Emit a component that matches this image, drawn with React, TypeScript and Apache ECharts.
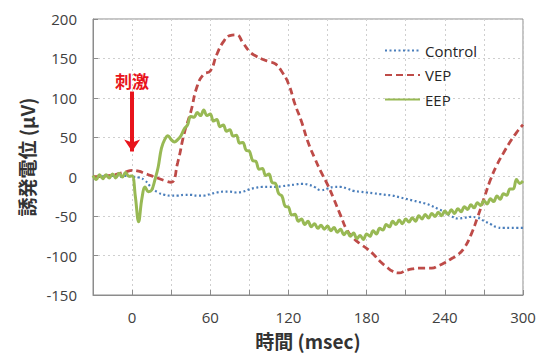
import React, { useEffect, useRef } from "react";
import * as echarts from "echarts";

// sample grid (ms)
const COARSE_START = -30;
const COARSE_STEP = 5;
const FINE_START = -30;
const FINE_STEP = 2.5;

const seriesNames = ["Control", "VEP", "EEP"];
const xTickLabels = [0, 60, 120, 180, 240, 300];

// Control (µV), every 5 ms from -30 to 300
const controlValues = [
  0, 0, 1, 1, 0, 1, 0,
  -1, -5, -14, -20, -23, -24, -24, -23, -23, -24,
  -24, -22, -20, -19, -19, -20, -19, -16, -14, -13,
  -13, -13, -12, -11, -10, -9, -10, -13, -17, -15,
  -13, -13, -15, -18, -19, -20, -21, -22, -23, -24,
  -26, -28, -30, -32, -34, -37, -41, -45, -50, -53,
  -52, -51, -52, -56, -60, -64, -65, -65, -65, -65,
];

// VEP (µV), every 5 ms from -30 to 300
const vepValues = [
  0, 0, 1, 2, 4, 6, 8,
  7, 4, 1, -2, -5, -7, 18, 55, 82, 115,
  130, 134, 155, 171, 179, 180, 170, 159, 153, 149,
  146, 143, 133, 118, 92, 70, 44, 24, 6, -10,
  -29, -49, -68, -78, -85, -91, -98, -107, -114, -120,
  -122, -119, -117, -116, -116, -116, -113, -109, -104, -99,
  -90, -74, -52, -28, -4, 15, 30, 44, 56, 66,
];

// EEP (µV), every 2.5 ms from -30 to 300
const eepValues = [
  1.5, -3.5, 2.5, -2.5, 2.5, -1.5, 3.5, -1.5, 4.5, -0.5, 5.5, 0.5,
  1, -25, -57, -28, -13, -19, -17, -4, 12, 36,
  47, 52, 47, 44, 47, 52,
  60.5, 65.5, 76.5, 75.5, 81.5, 77.5, 84.5, 77.5, 79.5, 70.5,
  72.5, 63.5, 65.5, 57.5, 59.5, 51.5, 52.5, 42.5, 43.5, 33.5,
  32.5, 20.5, 19.5, 9.5, 10.5, 1.5, 3.5, -7.5, -8.5, -21.5,
  -24.5, -37.5, -38.5, -48.5, -47.5, -56.5, -53.5, -60.5, -56.5, -63.5,
  -59.5, -65.5, -61.5, -66.5, -62.5, -68.5, -64.5, -70.5, -66.5, -73.5,
  -69.5, -75.5, -71.5, -78.5, -74.5, -79.5, -72.5, -75.5, -68.5, -72.5,
  -65.5, -67.5, -60.5, -63.5, -56.5, -60.5, -55, -59.5, -53.5, -57.5,
  -52, -56.5, -49.5, -53.5, -48, -52.5, -46.5, -50.5, -45, -49.5,
  -43.5, -47.5, -42, -46.5, -40.5, -44.5, -38, -41.5, -35.5, -39.5,
  -33, -36.5, -30.5, -34.5, -28, -31.5, -24.5, -28.5, -21.5, -23.5,
  -15.5, -15.5, -3.5, -8.5, -5.5,
];

// stimulus arrow (time, from value, to value)
const stimulusLabel = "刺激";
const stimulusTime = 0;
const stimulusFrom = 108;
const stimulusTo = 32;

const toPairs = (vals: number[], start: number, step: number) =>
  vals.map((v, i) => [start + i * step, v]);

export default function App() {
  const ref = useRef<HTMLDivElement>(null);

  useEffect(() => {
    if (!ref.current) return;
    const chart = echarts.init(ref.current, undefined, { renderer: "svg" });
    const latin = "'Open Sans', 'Noto Sans CJK JP', sans-serif";
    const cjk = "'Noto Sans CJK JP', 'Open Sans', sans-serif";
    const axisGray = "#8c8c8c";
    const gridStyle = { color: "#cfcfcf", type: [2, 3] as any, width: 1 };

    chart.setOption({
      animation: false,
      backgroundColor: "#ffffff",
      textStyle: { fontFamily: latin },
      grid: {
        left: 93,
        right: 17,
        top: 19,
        bottom: 58,
        show: true,
        borderColor: axisGray,
        borderWidth: 1,
        containLabel: false,
        outerBoundsMode: "none",
      },
      legend: {
        orient: "vertical",
        left: 384,
        top: 43,
        padding: 0,
        itemWidth: 35,
        itemHeight: 14,
        itemGap: 9.5,
        data: seriesNames,
        itemStyle: { opacity: 0, color: "transparent", borderWidth: 0 },
        textStyle: { fontSize: 15, color: "#262626", fontFamily: latin },
      },
      xAxis: {
        type: "value",
        min: -30,
        max: 300,
        interval: 30,
        axisLine: { onZero: false, lineStyle: { color: axisGray } },
        axisTick: { inside: true, length: 5, lineStyle: { color: axisGray } },
        axisLabel: {
          formatter: (v: number) => (xTickLabels.includes(v) ? String(v) : ""),
          color: "#404040",
          fontSize: 15,
          margin: 14,
          fontFamily: latin,
        },
        splitLine: { show: true, lineStyle: gridStyle },
        name: "時間 (msec)",
        nameLocation: "middle",
        nameGap: 36,
        nameTextStyle: { fontSize: 19, fontWeight: "bold", color: "#333333", fontFamily: cjk },
      },
      yAxis: {
        type: "value",
        min: -150,
        max: 200,
        interval: 50,
        axisLine: { show: true, onZero: false, lineStyle: { color: axisGray } },
        axisTick: { show: true, inside: true, length: 5, lineStyle: { color: axisGray } },
        axisLabel: { color: "#404040", fontSize: 15, margin: 16, fontFamily: latin },
        splitLine: { show: true, lineStyle: gridStyle },
        name: "誘発電位 (μV)",
        nameLocation: "middle",
        nameGap: 49,
        nameTextStyle: { fontSize: 19, fontWeight: "bold", color: "#333333", fontFamily: cjk },
      },
      series: [
        {
          name: "Control",
          type: "line",
          data: toPairs(controlValues, COARSE_START, COARSE_STEP),
          symbol: "none",
          smooth: 0.5,
          itemStyle: { color: "#4a7ebb" },
          lineStyle: { color: "#4a7ebb", width: 2.2, type: [2, 2.5] },
        },
        {
          name: "VEP",
          type: "line",
          data: toPairs(vepValues, COARSE_START, COARSE_STEP),
          symbol: "none",
          smooth: 0.5,
          itemStyle: { color: "#be4b48" },
          lineStyle: { color: "#be4b48", width: 2.8, type: [7, 4] },
          markLine: {
            silent: true,
            symbol: ["none", "arrow"],
            symbolSize: [12, 12],
            lineStyle: { color: "#e8141c", width: 4, type: "solid" },
            label: {
              show: true,
              position: "start",
              formatter: stimulusLabel,
              color: "#e8141c",
              fontSize: 17,
              fontWeight: "bold",
              fontFamily: cjk,
              distance: 3,
            },
            emphasis: { disabled: true },
            data: [[{ coord: [stimulusTime, stimulusFrom] }, { coord: [stimulusTime, stimulusTo] }]],
          },
        },
        {
          name: "EEP",
          type: "line",
          data: toPairs(eepValues, FINE_START, FINE_STEP),
          symbol: "none",
          smooth: 0.4,
          itemStyle: { color: "#98b954" },
          lineStyle: { color: "#98b954", width: 3 },
        },
      ],
    });

    return () => chart.dispose();
  }, []);

  return (
    <div
      ref={ref}
      style={{ position: "fixed", left: 0, top: 0, width: 540, height: 353, background: "#fff" }}
    />
  );
}
